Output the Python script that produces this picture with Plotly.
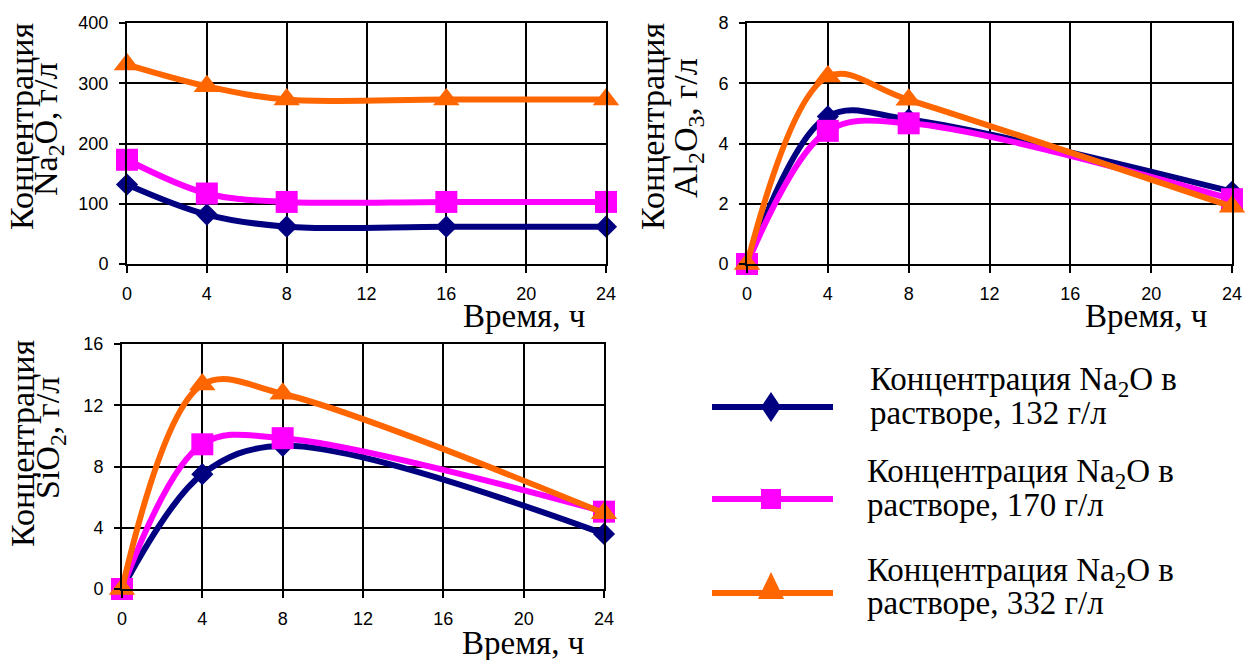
import plotly.graph_objects as go

# ---------------- data ----------------
time_na = [0, 4, 8, 16, 24]
na2o_132 = [132, 82, 62, 62, 62]
na2o_170 = [173, 117, 103, 103, 103]
na2o_332 = [331, 295, 273, 273, 273]

time_al = [0, 4, 8, 24]
al2o3_132 = [0, 4.9, 4.8, 2.4]
al2o3_170 = [0, 4.42, 4.67, 2.15]
al2o3_332 = [0, 6.22, 5.45, 1.9]

time_si = [0, 4, 8, 24]
sio2_132 = [0, 7.5, 9.35, 3.6]
sio2_170 = [0, 9.45, 9.85, 5.05]
sio2_332 = [0, 13.35, 12.75, 4.95]

series_line1 = "Концентрация Na<sub>2</sub>O в"
series_line2 = ["растворе, 132 г/л", "растворе, 170 г/л", "растворе, 332 г/л"]
x_ticks = [0, 4, 8, 12, 16, 20, 24]

# ---------------- styles ----------------
W, H = 1254, 660
colors = ["#000080", "#FF00FF", "#FF6600"]
symbols = ["diamond", "square", "triangle-up"]
msizes = [17, 22, 23]
SERIF = "Liberation Serif, Times New Roman, serif"
SANS = "Liberation Sans, Arial, sans-serif"
TFS = 33   # horizontal serif texts
VFS = 34   # rotated y titles


def px(x):
    return x / W


def py(y):
    return 1 - y / H


fig = go.Figure()

panels = [
    ("x", "y", time_na, [na2o_132, na2o_170, na2o_332]),
    ("x2", "y2", time_al, [al2o3_132, al2o3_170, al2o3_332]),
    ("x3", "y3", time_si, [sio2_132, sio2_170, sio2_332]),
]
for xa, ya, t, ys in panels:
    for i, yv in enumerate(ys):
        fig.add_trace(go.Scatter(
            x=t, y=yv, xaxis=xa, yaxis=ya, mode="lines+markers",
            name=series_line2[i], showlegend=False, cliponaxis=False,
            line=dict(color=colors[i], width=6, shape="spline", smoothing=1.0),
            marker=dict(symbol=symbols[i], size=msizes[i], color=colors[i],
                        line=dict(width=0)),
        ))

axis_common = dict(
    showline=True, mirror=True, linecolor="black", linewidth=2,
    showgrid=True, gridcolor="black", gridwidth=2, zeroline=False,
    ticks="outside", tickcolor="black", tickwidth=2, automargin=False,
    tickfont=dict(family=SANS, size=18, color="black"),
)

domains = [
    ((127, 606), (23, 264), (0, 400), 100),
    ((747, 1232), (23, 264), (0, 8), 2),
    ((122, 604), (344, 589), (0, 16), 4),
]
layout = dict(
    width=W, height=H, margin=dict(l=0, r=0, t=0, b=0, pad=0),
    paper_bgcolor="white", plot_bgcolor="white", showlegend=False,
    autosize=False,
)
for k, ((x0, x1), (y0, y1), yr, dt) in enumerate(domains):
    sfx = "" if k == 0 else str(k + 1)
    layout["xaxis" + sfx] = dict(
        axis_common, domain=[px(x0), px(x1)], range=[0, 24],
        tickvals=x_ticks, anchor="y" + sfx, ticklen=7, ticklabelstandoff=5,
    )
    layout["yaxis" + sfx] = dict(
        axis_common, domain=[py(y1), py(y0)], range=list(yr), dtick=dt,
        anchor="x" + sfx, ticklen=6, ticklabelstandoff=7,
    )
fig.update_layout(**layout)

annotations = []


def add_text(txt, x, y, angle=0, xanchor="center", size=TFS):
    annotations.append(dict(
        text=txt, x=px(x), y=py(y), xref="paper", yref="paper",
        textangle=angle, showarrow=False, xanchor=xanchor, yanchor="middle",
        font=dict(family=SERIF, size=size, color="black"),
    ))


# y-axis titles (two rotated lines each)
add_text("Концентрация", 22, 127, -90, size=VFS)
add_text("Na<sub>2</sub>O, г/л", 48, 129, -90, size=VFS)
add_text("Концентрация", 653, 127, -90, size=VFS)
add_text("Al<sub>2</sub>O<sub>3</sub>, г/л", 688, 128, -90, size=VFS)
add_text("Концентрация", 22, 444, -90, size=VFS)
add_text("SiO<sub>2</sub>, г/л", 50, 438, -90, size=VFS)

# x-axis titles
add_text("Время, ч", 524, 316)
add_text("Время, ч", 1146, 316)
add_text("Время, ч", 523, 643)

# custom legend
shapes = []
leg_y = [407, 499, 593]
text_x = [868, 865, 865]
base1 = [392, 483, 582]
base2 = [423, 515, 613]
for i in range(3):
    y = leg_y[i]
    shapes.append(dict(type="line", xref="paper", yref="paper",
                       x0=px(712), x1=px(833), y0=py(y), y1=py(y),
                       line=dict(color=colors[i], width=6)))
    cx = 771
    if i == 0:
        path = (f"M {px(cx)} {py(y-15)} L {px(cx+10)} {py(y)} "
                f"L {px(cx)} {py(y+15)} L {px(cx-10)} {py(y)} Z")
    elif i == 1:
        path = (f"M {px(cx-10)} {py(y-10)} L {px(cx+10)} {py(y-10)} "
                f"L {px(cx+10)} {py(y+10)} L {px(cx-10)} {py(y+10)} Z")
    else:
        path = (f"M {px(cx)} {py(y-21)} L {px(cx+13)} {py(y+6)} "
                f"L {px(cx-13)} {py(y+6)} Z")
    shapes.append(dict(type="path", xref="paper", yref="paper", path=path,
                       fillcolor=colors[i], line=dict(width=0)))
    add_text(series_line1, text_x[i], base1[i] - 10, 0, "left")
    add_text(series_line2[i], text_x[i], base2[i] - 10, 0, "left")

fig.update_layout(annotations=annotations, shapes=shapes)
fig.write_html("out.html")
